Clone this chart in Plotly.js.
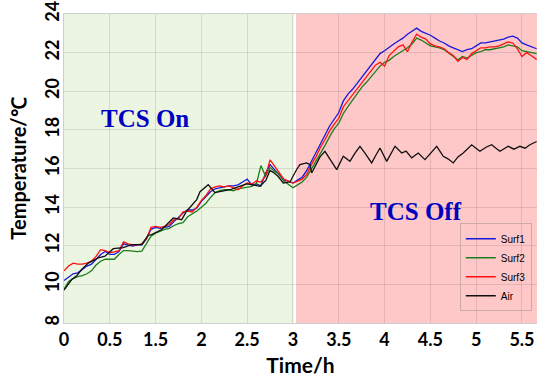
<!DOCTYPE html>
<html>
<head>
<meta charset="utf-8">
<script src="https://cdn.plot.ly/plotly-3.0.1.min.js"></script>
<style>html,body{margin:0;padding:0;background:#fff;}#chart{width:537px;height:380px;}</style>
</head>
<body>
<div id="chart"></div>
<script>
// Time positions (plot units, one grid step = 0.5) for the surface sensors
var tSurf = [
 0.00,0.05,0.10,0.15,0.20,0.25,0.30,0.35,0.40,0.45,
 0.50,0.55,0.60,0.65,0.70,0.75,0.80,0.85,0.90,0.95,
 1.00,1.05,1.10,1.15,1.20,1.25,1.30,1.35,1.40,1.45,
 1.50,1.55,1.60,1.65,1.70,1.75,1.80,1.85,1.90,1.95,
 2.00,2.05,2.10,2.15,2.20,2.25,2.30,2.35,2.40,2.45,
 2.50,2.55,2.60,2.65,2.70,2.75,2.80,2.85,2.90,2.95,
 3.00,3.05,3.10,3.15,3.20,3.25,3.30,3.35,3.40,3.45,
 3.50,3.55,3.60,3.65,3.70,3.75,3.80,3.85,3.90,3.95,
 4.00,4.05,4.10,4.15,4.20,4.25,4.30,4.35,4.40,4.45,
 4.50,4.55,4.60,4.65,4.70,4.75,4.80,4.85,4.90,4.95,
 5.00,5.05,5.10,5.16
];
var surf1 = [
 10.2,10.4,10.55,10.6,10.8,10.95,11.05,11.3,11.55,11.7,
 11.55,11.55,11.7,12.1,12.05,11.98,12.05,12.05,12.35,12.85,
 12.95,12.9,12.95,13.0,13.25,13.5,13.7,13.85,13.85,13.95,
 14.3,14.55,14.8,14.95,15.0,15.05,15.1,15.1,15.15,15.3,
 15.45,15.15,15.2,15.1,15.75,16.2,15.95,15.7,15.4,15.35,
 15.25,15.4,15.55,15.9,16.35,16.8,17.3,17.75,18.2,18.55,
 18.9,19.5,19.85,20.1,20.4,20.75,21.0,21.35,21.6,21.95,
 22.1,22.3,22.45,22.6,22.75,22.95,23.1,23.27,23.1,23.0,
 22.9,22.75,22.6,22.5,22.35,22.25,22.15,22.05,22.15,22.2,
 22.35,22.5,22.5,22.55,22.6,22.65,22.7,22.8,22.85,22.75,
 22.5,22.4,22.3,22.2
];
var surf2 = [
 9.75,10.15,10.3,10.4,10.45,10.55,10.7,11.0,11.2,11.3,
 11.3,11.3,11.55,11.75,11.75,11.72,11.7,11.72,12.1,12.5,
 12.65,12.75,12.85,12.9,13.05,13.15,13.2,13.5,13.65,13.8,
 14.0,14.2,14.5,14.75,14.85,14.9,14.9,14.85,14.95,15.0,
 15.05,15.08,15.2,16.15,15.6,16.05,15.85,15.7,15.35,15.15,
 15.0,15.15,15.3,15.55,15.95,16.35,16.8,17.2,17.65,18.05,
 18.35,18.85,19.2,19.55,19.85,20.2,20.45,20.75,21.05,21.3,
 21.5,21.6,21.8,21.95,22.1,22.25,22.45,22.75,22.65,22.5,
 22.35,22.3,22.25,22.15,21.98,21.8,21.63,21.8,21.72,21.85,
 22.0,22.05,22.15,22.15,22.2,22.25,22.3,22.4,22.35,22.3,
 22.1,22.05,22.0,21.95
];
var surf3 = [
 10.7,10.95,11.1,11.05,11.05,11.1,11.2,11.45,11.8,11.75,
 11.65,11.68,11.75,12.2,12.1,12.05,12.05,12.1,12.35,12.95,
 13.0,12.95,13.0,13.1,13.35,13.4,13.75,13.8,13.75,14.0,
 14.35,14.6,14.95,15.05,15.1,15.05,15.1,15.0,14.9,15.1,
 15.25,15.2,15.35,15.3,15.6,16.45,16.1,15.8,15.45,15.35,
 15.25,15.35,15.45,15.7,16.2,16.6,17.1,17.5,17.95,18.3,
 18.6,19.2,19.5,19.85,20.15,20.45,20.75,21.05,21.35,21.5,
 21.3,21.85,22.1,22.3,22.4,22.05,22.55,22.95,22.8,22.7,
 22.45,22.35,22.3,22.2,22.0,21.85,21.55,21.75,21.65,21.95,
 22.1,22.25,22.25,22.3,22.3,22.35,22.45,22.55,22.5,22.2,
 21.8,22.0,21.85,21.65
];
// Air temperature sensor
var tAir = [
 0.000,0.084,0.139,0.193,0.265,0.374,0.448,0.538,0.647,0.739,
 0.848,0.920,0.957,1.067,1.193,1.285,1.340,1.449,1.485,1.575,
 1.648,1.736,1.812,1.900,1.995,2.063,2.140,2.205,2.249,2.285,
 2.336,2.394,2.467,2.540,2.576,2.649,2.686,2.704,2.751,2.795,
 2.849,2.904,2.977,3.049,3.122,3.177,3.231,3.286,3.359,3.406,
 3.450,3.523,3.570,3.614,3.687,3.734,3.796,3.868,3.941,4.007,
 4.069,4.141,4.192,4.250,4.301,4.359,4.451,4.498,4.541,4.607,
 4.669,4.716,4.760,4.850,4.913,4.978,5.033,5.087,5.160
];
var air = [
 9.7,10.25,10.45,10.77,11.1,11.37,11.46,11.85,11.9,12.06,
 12.06,12.55,12.58,12.84,13.44,13.35,13.8,14.39,14.8,15.16,
 14.75,14.85,14.9,15.05,15.2,15.15,15.08,15.4,15.9,15.8,
 15.6,15.25,15.3,15.95,16.2,16.29,16.2,15.77,16.2,16.6,
 16.89,16.5,15.94,16.63,16.37,16.8,17.15,16.8,16.29,16.7,
 17.06,16.37,16.8,17.15,16.8,16.9,16.55,16.8,16.46,16.8,
 17.15,16.63,16.5,16.29,16.6,16.8,17.23,17.05,16.89,17.1,
 17.23,17.05,16.89,17.15,17.0,17.15,17.05,17.23,17.4
];
var xTickVals = [0,0.5,1,1.5,2,2.5,3,3.5,4,4.5,5];
var xTickText = ['0','0.5','1.5','2','2.5','3','3.5','4','4.5','5','5.5'];
var yTickVals = [8,10,12,14,16,18,20,22,24];
var phaseOnEnd = 2.511, phaseOffStart = 2.533, xMax = 5.164;

var lineW = 1.3;
var traces = [
 {x:tSurf, y:surf1, name:'Surf1', mode:'lines', line:{color:'#1818d8', width:lineW}},
 {x:tSurf, y:surf2, name:'Surf2', mode:'lines', line:{color:'#1d7d1d', width:lineW}},
 {x:tSurf, y:surf3, name:'Surf3', mode:'lines', line:{color:'#ff1010', width:lineW}},
 {x:tAir, y:air, name:'Air', mode:'lines', line:{color:'#101010', width:lineW}}
];
var boldFont = {family:'Lato, "Open Sans", sans-serif', size:18, color:'#000', weight:700};
var layout = {
 width:537, height:380,
 margin:{l:64, r:0, t:14, b:57, pad:0},
 paper_bgcolor:'#fff', plot_bgcolor:'#fff',
 showlegend:true,
 xaxis:{range:[0,xMax], tickvals:xTickVals, ticktext:xTickText, tickmode:'array',
   showgrid:true, gridcolor:'rgba(0,0,0,0.1)', zeroline:false,
   showline:true, linecolor:'#cfcfcf', linewidth:1, mirror:true,
   tickfont:boldFont, ticks:'',
   title:{text:'Time/h', font:{family:'Lato, sans-serif', size:21, color:'#000', weight:700}, standoff:9}},
 yaxis:{range:[8,24], tickvals:yTickVals, tickmode:'array',
   showgrid:true, gridcolor:'rgba(0,0,0,0.1)', zeroline:false,
   showline:true, linecolor:'#cfcfcf', linewidth:1,
   tickfont:boldFont, tickangle:-90, ticks:'', ticklabelstandoff:-3,
   title:{text:'Temperature/℃', font:{family:'"Liberation Sans Narrow", Lato, sans-serif', size:20, color:'#000', weight:700}, standoff:8}},
 legend:{x:0.989, y:0.038, xanchor:'right', yanchor:'bottom',
   bgcolor:'rgba(0,0,0,0)', bordercolor:'#c9a9a9', borderwidth:1,
   font:{family:'Liberation Sans, Arial, sans-serif', size:10, color:'#000'},
   tracegroupgap:0},
 shapes:[
  {type:'rect', xref:'x', yref:'paper', x0:0, x1:phaseOnEnd, y0:0, y1:1,
   fillcolor:'#ebf5e1', line:{width:0}, layer:'below'},
  {type:'rect', xref:'x', yref:'paper', x0:phaseOffStart, x1:xMax, y0:0, y1:1,
   fillcolor:'#ffc8c8', line:{width:0}, layer:'below'}
 ],
 annotations:[
  {text:'TCS On', xref:'paper', yref:'paper', x:(145-64)/473, y:(323-118)/309,
   xanchor:'center', yanchor:'middle',
   showarrow:false, font:{family:'Liberation Serif, serif', size:25, color:'#0000c0', weight:700}},
  {text:'TCS Off', xref:'paper', yref:'paper', x:(416-64)/473, y:(323-212)/309,
   xanchor:'center', yanchor:'middle',
   showarrow:false, font:{family:'Liberation Serif, serif', size:25, color:'#0000c0', weight:700}}
 ]
};
Plotly.newPlot('chart', traces, layout, {displayModeBar:false, staticPlot:true});
</script>
</body>
</html>
